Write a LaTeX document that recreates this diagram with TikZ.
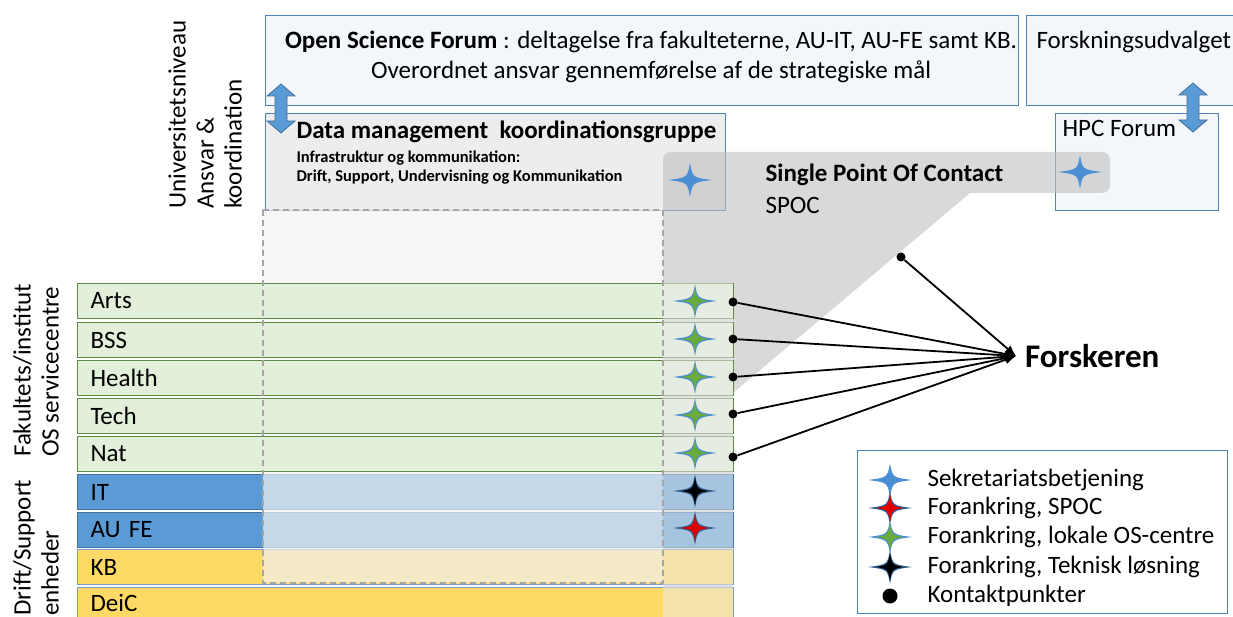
\documentclass[tikz,border=0pt]{standalone}
\usepackage{fontspec}
\setmainfont{Carlito}
\usetikzlibrary{positioning,arrows.meta}

\definecolor{panelblue}{HTML}{4F81BD}
\definecolor{osffill}{HTML}{F3F7FB}
\definecolor{dmfill}{HTML}{EDEDED}
\definecolor{spocgray}{HTML}{BFBFBF}
\definecolor{facfill}{HTML}{E2EFDA}
\definecolor{facedge}{HTML}{5E8A45}
\definecolor{itfill}{HTML}{5B9BD5}
\definecolor{itedge}{HTML}{41719C}
\definecolor{kbfill}{HTML}{FFD966}
\definecolor{kbedge}{HTML}{7F9CC8}
\definecolor{starblue}{HTML}{4A8FD4}
\definecolor{stargreen}{HTML}{6AAA3F}
\definecolor{starred}{HTML}{E00000}
\definecolor{stardark}{HTML}{2F5F8F}

% four-point star: position, outer colour, inner colour
\newcommand{\sparkle}[3]{%
  \begin{scope}[shift={#1}]
    \fill[#2] (22,0) .. controls (2.5,2.5) .. (0,17) .. controls (-2.5,2.5) .. (-22,0)
      .. controls (-2.5,-2.5) .. (0,-17) .. controls (2.5,-2.5) .. (22,0) -- cycle;
    \fill[#3] (14,0) .. controls (2,2) .. (0,14) .. controls (-2,2) .. (-14,0)
      .. controls (-2,-2) .. (0,-14) .. controls (2,-2) .. (14,0) -- cycle;
  \end{scope}}

% vertical block arrow: x, top, bottom
\newcommand{\updown}[3]{%
  \filldraw[fill=itfill, draw=itedge, line width=0.8pt]
    (#1,#2) -- ++(14,12) -- ++(-8,0) -- (#1+6,#3-12) -- ++(8,0) -- (#1,#3)
    -- ++(-14,-12) -- ++(8,0) -- (#1-6,#2+12) -- ++(-8,0) -- cycle;}

\begin{document}
\begin{tikzpicture}[
        x=1pt, y=-1pt,
        font=\fontsize{25}{30}\selectfont,
        panel/.style={draw=panelblue, line width=1.2pt, inner sep=0pt, anchor=north west},
        facrow/.style={
            draw=facedge,
            fill=facfill,
            line width=1pt,
            anchor=north west,
            minimum height=35pt,
            text width=630pt,
            inner xsep=13pt,
            inner ysep=0pt,
            align=left
        },
        kdot/.style={circle, fill=black, inner sep=0pt, minimum size=9pt},
        contact/.style={line width=1.8pt, -{Latex[length=11pt,width=9pt]}},
        side/.style={rotate=90, anchor=west, align=left, inner sep=0pt,
            font=\fontsize{25}{28}\selectfont},
        boldtxt/.style={font=\fontsize{25}{30}\selectfont\bfseries},
    ]

    \useasboundingbox (0,0) rectangle (1233,617);
    \clip (0,0) rectangle (1233,617);

    % university level
    \node[panel, fill=osffill, minimum width=753pt, minimum height=90pt] (osf) at (265,15) {};
    \node[align=center] (osftxt) at (651,57)
        {\textbf{Open Science Forum} : deltagelse fra fakulteterne, AU-IT, AU-FE samt KB.\\
         Overordnet ansvar gennemførelse af de strategiske mål};
    \node[panel, fill=osffill, minimum width=214pt, minimum height=90pt] (fu) at (1026,15) {};
    \node[anchor=west] (futxt) at (1033,42) {Forskningsudvalget};
    \node[panel, fill=osffill, minimum width=163pt, minimum height=97pt] (hpc) at (1055,113) {};
    \node[anchor=west] (hpctxt) at (1059,128) {HPC Forum};
    \node[panel, fill=dmfill, minimum width=460pt, minimum height=97pt] (dm) at (265,113) {};
    \node[boldtxt, anchor=west] (dmtxt) at (293,132)
        {Data management\ \ koordinationsgruppe};
    \node[anchor=north west, align=left, font=\fontsize{16.5}{19}\selectfont\bfseries] (dmsub) at (293,147)
        {Infrastruktur og kommunikation:\\Drift, Support, Undervisning og Kommunikation};

    % single point of contact
    \fill[spocgray, fill opacity=0.6]
        (671,152) -- (1102,152) arc[start angle=-90, end angle=0, radius=8] -- (1110,185)
        arc[start angle=0, end angle=90, radius=8] -- (970,193) -- (733,393) -- (733,617) -- (663,617)
        -- (663,160) arc[start angle=180, end angle=270, radius=8] -- cycle;
    \node[boldtxt, anchor=west] (spoc) at (762,175) {Single Point Of Contact};
    \node[anchor=west] (spocabbr) at (762,205) {SPOC};

    % support units
    \foreach \n/\lab/\y/\c/\e in {it/IT/474/itfill/itedge, aufe/AU FE/512/itfill/itedge,
            kb/KB/549/kbfill/kbedge}
        \node[facrow, fill=\c, draw=\e] (\n) at (77,\y) {\lab};
    \node[facrow, fill=kbfill, draw=kbedge, minimum height=30pt] (deic) at (77,587) {DeiC};

    \fill[white!95!black, fill opacity=0.7] (263,210) rectangle (663,583);

    % faculties
    \foreach \n/\lab/\y in {arts/Arts/283, bss/BSS/322, health/Health/360, tech/Tech/398, nat/Nat/436}
        \node[facrow] (\n) at (77,\y) {\lab};

    \fill[white!92!black, fill opacity=0.52] (663,283) rectangle (733,617);
    \draw[black!35, line width=1.5pt, dash pattern=on 6pt off 4pt] (263,210) rectangle (663,583);

    % stars
    \foreach \y/\o/\i in {301/starblue/stargreen, 339/starblue/stargreen, 377/starblue/stargreen,
            415/starblue/stargreen, 453/starblue/stargreen, 491/stardark/black, 528/stardark/starred} {
        \sparkle{(695,\y)}{\o}{\i}
    }
    \sparkle{(690,180)}{starblue}{starblue}
    \sparkle{(1080,172)}{starblue}{starblue}

    % contact points
    \node[anchor=west, inner xsep=9pt, font=\fontsize{33}{40}\selectfont\bfseries] (forsk) at (1016,356) {Forskeren};
    \foreach \k/\y in {kArts/302, kBss/339, kHealth/377, kTech/414, kNat/457}
        \node[kdot] (\k) at (733,\y) {};
    \node[kdot] (kSpoc) at (901,257) {};
    \foreach \k in {kArts, kBss, kHealth, kTech, kNat, kSpoc}
        \draw[contact] (\k) -- (forsk.west);

    \updown{281}{84}{133}
    \updown{1193}{83}{132}

    % legend
    \node[panel, fill=white, minimum width=370pt, minimum height=163pt] (legend) at (857,450) {};
    \foreach \n/\y/\o/\i/\t in {1/480/starblue/starblue/Sekretariatsbetjening,
            2/508/stardark/starred/{Forankring, SPOC},
            3/537/starblue/stargreen/{Forankring, lokale OS-centre},
            4/567/stardark/black/{Forankring, Teknisk løsning}} {
        \sparkle{(890,\y)}{\o}{\i}
        \node[anchor=west] (leg\n) at (924,\y) {\t};
    }
    \node[kdot, minimum size=15pt] (legdot) at (890,596) {};
    \node[anchor=west] (leg5) at (924,596) {Kontaktpunkter};

    % level labels
    \node[side] (lvlUni) at (205,209) {Universitetsniveau\\Ansvar \&\\koordination};
    \node[side] (lvlFak) at (36,457) {Fakultets/institut\\OS servicecentre};
    \node[side] (lvlDrift) at (36,616) {Drift/Support\\enheder};

\end{tikzpicture}
\end{document}
